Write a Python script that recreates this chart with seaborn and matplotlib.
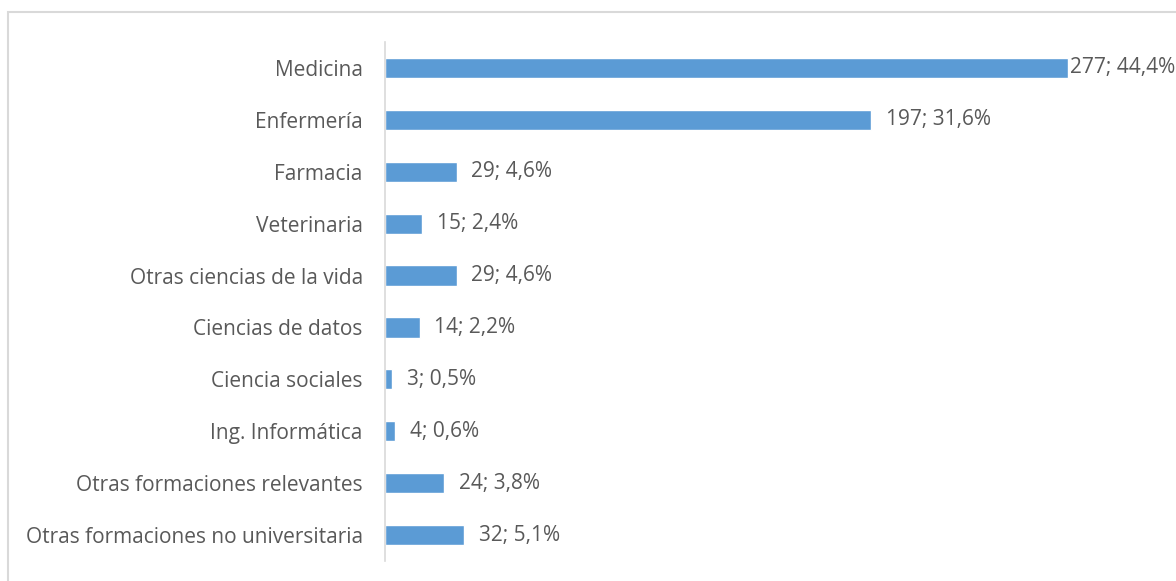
import matplotlib
matplotlib.use("Agg")
import pandas as pd
import seaborn as sns
from matplotlib import pyplot as plt
from matplotlib.patches import Rectangle

categorias = ["Medicina", "Enfermería", "Farmacia", "Veterinaria",
              "Otras ciencias de la vida", "Ciencias de datos", "Ciencia sociales",
              "Ing. Informática", "Otras formaciones relevantes",
              "Otras formaciones no universitaria"]
valores = [277, 197, 29, 15, 29, 14, 3, 4, 24, 32]
porcentajes = ["44,4%", "31,6%", "4,6%", "2,4%", "4,6%", "2,2%", "0,5%", "0,6%", "3,8%", "5,1%"]

df = pd.DataFrame({"categoria": categorias, "valor": valores})

sns.set_style("white")
plt.rcParams["font.family"] = ["Open Sans", "DejaVu Sans"]
gris = "#595959"
tam = 15

fig = plt.figure(figsize=(11.76, 5.81), dpi=100)
ax = fig.add_axes([385 / 1176, 1 - 561 / 581, (1172 - 385) / 1176, (561 - 42) / 581])

sns.barplot(data=df, x="valor", y="categoria", orient="h", color="#5B9BD5",
            saturation=1, width=0.39, ax=ax)

ax.set_xlim(0, 319)
ax.set_ylim(9.5, -0.5)
ax.set_xlabel("")
ax.set_ylabel("")
ax.set_xticks([])
ax.tick_params(axis="y", length=0, pad=16, labelsize=tam, labelcolor=gris)
for s in ["top", "right", "bottom"]:
    ax.spines[s].set_visible(False)
ax.spines["left"].set_color("#D9D9D9")
ax.spines["left"].set_linewidth(1.2)

for i, (v, p) in enumerate(zip(valores, porcentajes)):
    # la etiqueta de Medicina no cabe y queda pegada a la barra
    dx = 0.5 if v == max(valores) else 6
    ax.text(v + dx, i, f"{v}; {p}", va="center", ha="left", fontsize=tam,
            color=gris, clip_on=False)

# marco del gráfico
fig.patches.append(Rectangle((8 / 1176, -0.1), 1.2, 1 - 12 / 581 + 0.1,
                             transform=fig.transFigure, fill=False,
                             edgecolor="#D9D9D9", linewidth=1.5))

fig.savefig("out.png", dpi=100)
